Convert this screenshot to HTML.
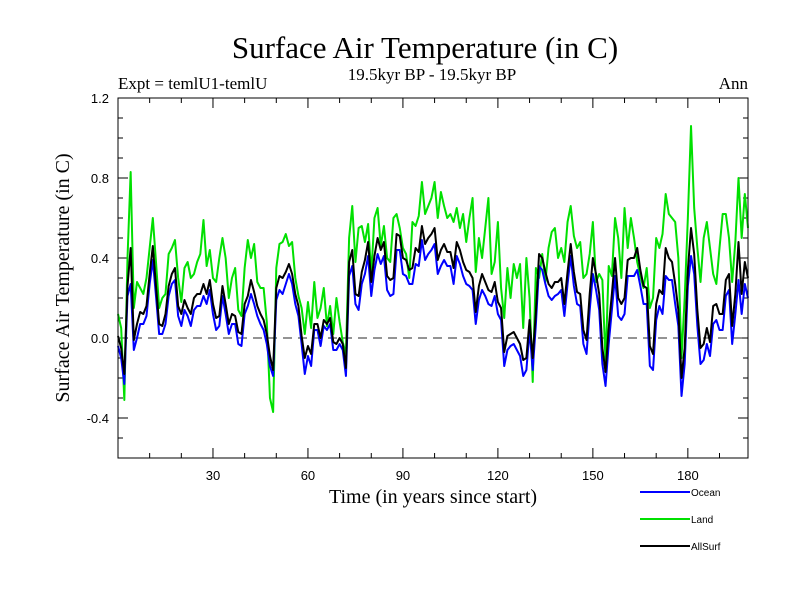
<!DOCTYPE html>
<html><head><meta charset="utf-8"><style>
body{margin:0;background:#fff;}
svg{display:block;}
</style></head><body>
<svg id="chart" width="800" height="600" viewBox="0 0 800 600" xmlns="http://www.w3.org/2000/svg">
<rect width="800" height="600" fill="#fff"/>
<text x="425" y="58" text-anchor="middle" font-family="Liberation Serif, serif" font-size="31">Surface Air Temperature (in C)</text>
<text x="432" y="80" text-anchor="middle" font-family="Liberation Serif, serif" font-size="17">19.5kyr BP - 19.5kyr BP</text>
<text x="118" y="89" font-family="Liberation Serif, serif" font-size="17">Expt = temlU1-temlU</text>
<text x="748" y="89" text-anchor="end" font-family="Liberation Serif, serif" font-size="17">Ann</text>
<text transform="translate(69,278) rotate(-90)" text-anchor="middle" font-family="Liberation Serif, serif" font-size="20">Surface Air Temperature (in C)</text>
<text x="433" y="503" text-anchor="middle" font-family="Liberation Serif, serif" font-size="20">Time (in years since start)</text>
<g id="ticks"></g>
<g id="plot"></g>
<rect x="118" y="98" width="630" height="360" fill="none" stroke="#000" stroke-width="1"/>
<g id="legend"></g>
</svg>
<script>
const years = Array.from({length:200},(_,i)=>i);
const ocean = [-0.04,-0.10,-0.23,0.21,0.27,-0.06,0.00,0.07,0.07,0.11,
0.27,0.39,0.21,0.02,0.02,0.07,0.21,0.27,0.29,0.11,
0.06,0.14,0.11,0.06,0.14,0.16,0.16,0.21,0.17,0.24,
0.12,0.04,0.06,0.21,0.12,0.02,0.07,0.07,-0.03,-0.04,
0.12,0.16,0.22,0.17,0.11,0.07,0.04,-0.03,-0.14,-0.19,
0.19,0.24,0.22,0.27,0.32,0.27,0.17,0.11,-0.03,-0.18,
-0.09,-0.14,0.04,0.04,-0.04,0.06,0.04,0.07,-0.06,-0.06,
-0.03,-0.06,-0.19,0.31,0.36,0.17,0.14,0.27,0.32,0.41,
0.21,0.34,0.42,0.37,0.41,0.24,0.21,0.22,0.44,0.44,
0.32,0.31,0.27,0.27,0.37,0.36,0.49,0.39,0.42,0.44,
0.47,0.32,0.36,0.39,0.36,0.36,0.27,0.41,0.37,0.31,
0.27,0.26,0.24,0.07,0.19,0.24,0.21,0.17,0.16,0.21,
0.12,0.09,-0.14,-0.06,-0.04,-0.03,-0.06,-0.09,-0.19,-0.16,
0.04,-0.16,0.07,0.36,0.34,0.27,0.21,0.19,0.21,0.22,
0.24,0.11,0.27,0.41,0.26,0.17,0.16,-0.03,-0.08,0.14,
0.32,0.24,0.14,-0.13,-0.24,-0.03,0.14,0.31,0.11,0.09,
0.12,0.31,0.31,0.31,0.34,0.26,0.17,0.17,-0.14,-0.16,
0.09,0.16,0.12,0.31,0.29,0.29,0.17,0.06,-0.29,-0.13,
0.26,0.41,0.32,0.06,-0.13,-0.11,-0.03,-0.09,0.07,0.09,
0.04,0.04,0.21,0.24,-0.03,0.12,0.29,0.12,0.27,0.20];
const land = [0.12,0.05,-0.31,0.40,0.83,0.15,0.28,0.25,0.22,0.30,
0.45,0.60,0.38,0.15,0.20,0.22,0.42,0.45,0.49,0.30,
0.18,0.35,0.38,0.30,0.32,0.38,0.42,0.59,0.36,0.44,
0.30,0.28,0.40,0.50,0.40,0.20,0.30,0.35,0.14,0.11,
0.35,0.49,0.40,0.47,0.28,0.25,0.25,0.08,-0.30,-0.37,
0.35,0.47,0.48,0.52,0.46,0.48,0.30,0.21,0.15,0.02,
0.18,0.05,0.28,0.10,0.15,0.25,0.06,0.16,0.02,0.20,
0.08,-0.02,-0.08,0.50,0.66,0.38,0.55,0.56,0.48,0.57,
0.32,0.60,0.65,0.46,0.56,0.40,0.38,0.60,0.62,0.55,
0.45,0.42,0.30,0.58,0.56,0.61,0.78,0.62,0.66,0.70,
0.78,0.60,0.73,0.66,0.60,0.62,0.58,0.65,0.55,0.62,
0.48,0.60,0.70,0.33,0.50,0.40,0.55,0.70,0.32,0.38,
0.58,0.25,0.10,0.35,0.20,0.37,0.30,0.37,0.05,0.40,
0.20,-0.22,0.35,0.30,0.42,0.28,0.45,0.53,0.55,0.40,
0.45,0.38,0.58,0.66,0.51,0.45,0.48,0.30,0.32,0.42,
0.58,0.28,0.32,0.29,-0.12,0.36,0.31,0.60,0.50,0.30,
0.65,0.45,0.60,0.50,0.38,0.31,0.25,0.35,0.15,0.20,
0.50,0.45,0.52,0.72,0.62,0.60,0.58,0.40,-0.10,0.20,
0.60,1.06,0.65,0.45,0.28,0.50,0.58,0.45,0.32,0.27,
0.45,0.62,0.62,0.50,0.28,0.48,0.80,0.50,0.72,0.55];
const allSurf = [0.01,-0.05,-0.18,0.26,0.45,-0.01,0.07,0.13,0.12,0.16,
0.32,0.46,0.26,0.07,0.06,0.12,0.26,0.32,0.35,0.16,
0.12,0.19,0.15,0.12,0.20,0.22,0.22,0.27,0.22,0.29,
0.17,0.10,0.11,0.26,0.17,0.07,0.12,0.11,0.03,0.02,
0.17,0.21,0.29,0.23,0.16,0.12,0.09,0.02,-0.09,-0.16,
0.25,0.31,0.30,0.33,0.37,0.32,0.22,0.16,0.01,-0.10,
-0.04,-0.08,0.07,0.07,0.00,0.09,0.07,0.10,-0.02,-0.03,
0.00,-0.03,-0.15,0.38,0.44,0.22,0.21,0.33,0.39,0.48,
0.28,0.41,0.50,0.44,0.48,0.31,0.29,0.30,0.52,0.51,
0.40,0.39,0.34,0.35,0.45,0.43,0.56,0.47,0.50,0.52,
0.55,0.39,0.44,0.47,0.43,0.43,0.35,0.48,0.44,0.38,
0.34,0.33,0.30,0.13,0.26,0.32,0.28,0.24,0.23,0.28,
0.18,0.15,-0.07,0.01,0.02,0.03,0.00,-0.03,-0.11,-0.10,
0.09,-0.10,0.13,0.42,0.40,0.33,0.27,0.25,0.28,0.28,
0.30,0.17,0.33,0.47,0.33,0.23,0.22,0.04,-0.01,0.22,
0.40,0.32,0.22,-0.05,-0.17,0.05,0.22,0.40,0.20,0.17,
0.20,0.39,0.40,0.40,0.45,0.34,0.26,0.25,-0.04,-0.08,
0.17,0.24,0.22,0.45,0.40,0.38,0.27,0.14,-0.20,-0.05,
0.34,0.55,0.42,0.14,-0.05,-0.03,0.05,-0.02,0.16,0.17,
0.12,0.12,0.29,0.32,0.06,0.22,0.48,0.22,0.38,0.30];
const yTickValues = [-0.4,0.0,0.4,0.8,1.2];
const yTickLabels = ["-0.4","0.0","0.4","0.8","1.2"];
const xTickValues = [30,60,90,120,150,180];
const xTickLabels = ["30","60","90","120","150","180"];

const NS="http://www.w3.org/2000/svg";
const X0=118,X1=748,Y0=98,Y1=458;
const xMin=0,xMax=199,yMin=-0.6,yMax=1.2;
function xs(v){return X0+(v-xMin)/(xMax-xMin)*(X1-X0);}
function ys(v){return Y1-(v-yMin)/(yMax-yMin)*(Y1-Y0);}
function mk(tag,attrs,parent){const e=document.createElementNS(NS,tag);for(const k in attrs)e.setAttribute(k,attrs[k]);parent.appendChild(e);return e;}

const ticks=document.getElementById('ticks');
for(let v=-0.6;v<=1.2001;v+=0.1){
  const y=ys(v);const major=yTickValues.some(t=>Math.abs(t-v)<1e-6);
  const l=major?10:5;
  const a=mk('line',{x1:X0,x2:X0+l,y1:y,y2:y,stroke:'#000'},ticks);
  
  
  const b=mk('line',{x1:X1,x2:X1-l,y1:y,y2:y,stroke:'#000'},ticks);
  
  
}
yTickValues.forEach((v,i)=>{
  const t=mk('text',{x:X0-9,y:ys(v)+5,'text-anchor':'end','font-family':'Liberation Sans, sans-serif','font-size':'13'},ticks);
  t.textContent=yTickLabels[i];
  
  
});
for(let v=10;v<=190;v+=10){
  const x=xs(v);const major=xTickValues.includes(v);const l=major?10:5;
  const a=mk('line',{x1:x,x2:x,y1:Y1,y2:Y1-l,stroke:'#000'},ticks);
  
  
  const b=mk('line',{x1:x,x2:x,y1:Y0,y2:Y0+l,stroke:'#000'},ticks);
  
  
}
xTickValues.forEach((v,i)=>{
  const t=mk('text',{x:xs(v),y:Y1+22,'text-anchor':'middle','font-family':'Liberation Sans, sans-serif','font-size':'13'},ticks);
  t.textContent=xTickLabels[i];
  
  
});

const plot=document.getElementById('plot');
const zl=mk('line',{x1:X0,x2:X1,y1:ys(0),y2:ys(0),stroke:'#555','stroke-dasharray':'9,6','stroke-width':'1.2'},plot);


function series(vals,color,name){
  const d=vals.map((v,i)=>(i?'L':'M')+xs(years[i]).toFixed(2)+','+ys(v).toFixed(2)).join('');
  const p=mk('path',{d:d,fill:'none',stroke:color,'stroke-width':'2','stroke-linejoin':'round'},plot);
  
  
}
series(land,'#00e000','land-line');
series(ocean,'#0000ff','ocean-line');
series(allSurf,'#000000','allsurf-line');

const leg=document.getElementById('legend');
const items=[['Ocean','#0000ff',492],['Land','#00e000',519],['AllSurf','#000',546]];
items.forEach(it=>{
  const g=mk('g',{},leg);
  
  
  mk('line',{x1:640,x2:690,y1:it[2],y2:it[2],stroke:it[1],'stroke-width':'2'},g);
  const t=mk('text',{x:691,y:it[2]+4,'font-family':'Liberation Sans, sans-serif','font-size':'10'},g);
  t.textContent=it[0];
});
</script>
</body></html>
